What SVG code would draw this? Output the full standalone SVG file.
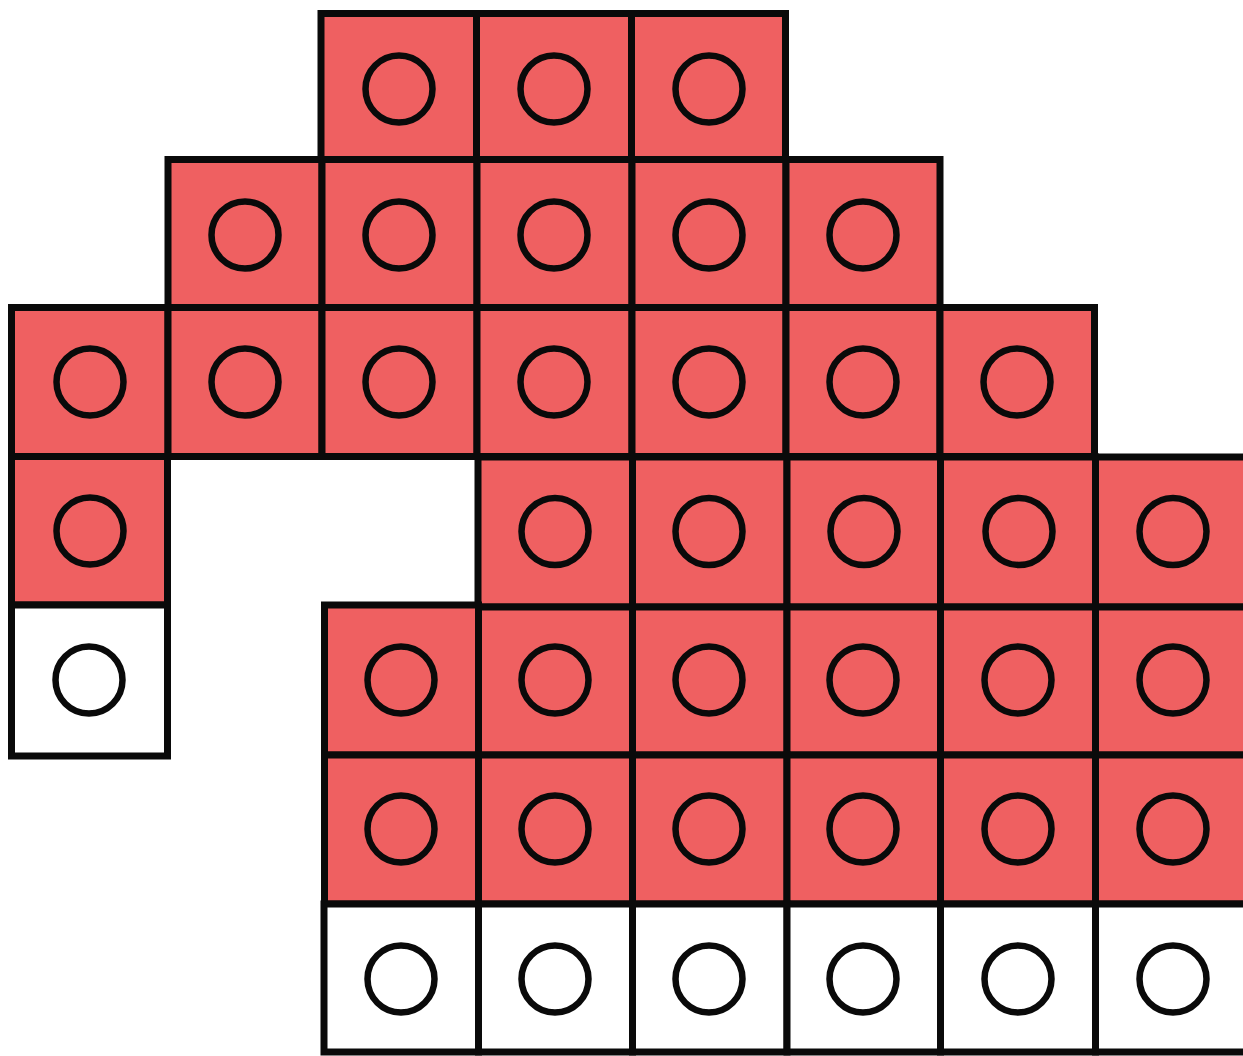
<svg xmlns="http://www.w3.org/2000/svg" width="1243" height="1056" viewBox="0 0 1243 1056">
<style>
.r{fill:#EF6061;stroke:#0a0a0a;stroke-width:7;stroke-linejoin:miter}
.w{fill:#ffffff;stroke:#0a0a0a;stroke-width:7;stroke-linejoin:miter}
.c{fill:none;stroke:#0a0a0a;stroke-width:6.5}
</style>
<rect width="1243" height="1056" fill="#ffffff"/>
<!-- Row 0 -->
<g id="r0c2"><rect class="r" x="321" y="13.5" width="155.5" height="146"/><circle class="c" cx="399" cy="89" r="33.5"/></g>
<g id="r0c3"><rect class="r" x="476.5" y="13.5" width="155" height="146"/><circle class="c" cx="554" cy="89" r="33.5"/></g>
<g id="r0c4"><rect class="r" x="631.5" y="13.5" width="154" height="146"/><circle class="c" cx="709" cy="89" r="33.5"/></g>
<!-- Row 1 -->
<g id="r1c1"><rect class="r" x="168" y="159.5" width="154" height="148"/><circle class="c" cx="245" cy="235" r="33.5"/></g>
<g id="r1c2"><rect class="r" x="322" y="159.5" width="155" height="148"/><circle class="c" cx="399" cy="235" r="33.5"/></g>
<g id="r1c3"><rect class="r" x="477" y="159.5" width="155" height="148"/><circle class="c" cx="554" cy="235" r="33.5"/></g>
<g id="r1c4"><rect class="r" x="632" y="159.5" width="154" height="148"/><circle class="c" cx="709" cy="235" r="33.5"/></g>
<g id="r1c5"><rect class="r" x="786" y="159.5" width="154" height="148"/><circle class="c" cx="863" cy="235" r="33.5"/></g>
<!-- Row 2 -->
<g id="r2c0"><rect class="r" x="11.5" y="307.5" width="156.5" height="149"/><circle class="c" cx="90" cy="382" r="33.5"/></g>
<g id="r2c1"><rect class="r" x="168" y="307.5" width="154" height="149"/><circle class="c" cx="245" cy="382" r="33.5"/></g>
<g id="r2c2"><rect class="r" x="322" y="307.5" width="155" height="149"/><circle class="c" cx="399" cy="382" r="33.5"/></g>
<g id="r2c3"><rect class="r" x="477" y="307.5" width="155" height="149"/><circle class="c" cx="554" cy="382" r="33.5"/></g>
<g id="r2c4"><rect class="r" x="632" y="307.5" width="154" height="149"/><circle class="c" cx="709" cy="382" r="33.5"/></g>
<g id="r2c5"><rect class="r" x="786" y="307.5" width="154" height="149"/><circle class="c" cx="863" cy="382" r="33.5"/></g>
<g id="r2c6"><rect class="r" x="940" y="307.5" width="154.5" height="149"/><circle class="c" cx="1017" cy="382" r="33.5"/></g>
<!-- Row 3 -->
<g id="r3c0"><rect class="r" x="11.5" y="456.5" width="156" height="148.5"/><circle class="c" cx="90" cy="531" r="33.5"/></g>
<g id="r3c3"><rect class="r" x="478" y="457" width="154.5" height="150"/><circle class="c" cx="555" cy="531.5" r="33.5"/></g>
<g id="r3c4"><rect class="r" x="632.5" y="457" width="154.5" height="150"/><circle class="c" cx="709" cy="531.5" r="33.5"/></g>
<g id="r3c5"><rect class="r" x="787" y="457" width="153.5" height="150"/><circle class="c" cx="864" cy="531.5" r="33.5"/></g>
<g id="r3c6"><rect class="r" x="940.5" y="457" width="155" height="150"/><circle class="c" cx="1019" cy="531.5" r="33.5"/></g>
<g id="r3c7"><rect class="r" x="1095.5" y="457" width="160" height="150"/><circle class="c" cx="1173" cy="531.5" r="33.5"/></g>
<!-- Row 4 -->
<g id="r4c0"><rect class="w" x="11.5" y="605" width="156" height="151"/><circle class="c" cx="89" cy="680" r="33.5"/></g>
<g id="r4c2"><rect class="r" x="324.5" y="605" width="154" height="150"/><circle class="c" cx="401" cy="680" r="33.5"/></g>
<g id="r4c3"><rect class="r" x="478.5" y="607" width="154" height="148"/><circle class="c" cx="555" cy="680" r="33.5"/></g>
<g id="r4c4"><rect class="r" x="632.5" y="607" width="154.5" height="148"/><circle class="c" cx="709" cy="680" r="33.5"/></g>
<g id="r4c5"><rect class="r" x="787" y="607" width="153.5" height="148"/><circle class="c" cx="863" cy="680" r="33.5"/></g>
<g id="r4c6"><rect class="r" x="940.5" y="607" width="155" height="148"/><circle class="c" cx="1018" cy="680" r="33.5"/></g>
<g id="r4c7"><rect class="r" x="1095.5" y="607" width="160" height="148"/><circle class="c" cx="1173" cy="680" r="33.5"/></g>
<!-- Row 5 -->
<g id="r5c2"><rect class="r" x="324.5" y="755" width="154" height="149"/><circle class="c" cx="401" cy="829" r="33.5"/></g>
<g id="r5c3"><rect class="r" x="478.5" y="755" width="154" height="149"/><circle class="c" cx="555" cy="829" r="33.5"/></g>
<g id="r5c4"><rect class="r" x="632.5" y="755" width="154.5" height="149"/><circle class="c" cx="709" cy="829" r="33.5"/></g>
<g id="r5c5"><rect class="r" x="787" y="755" width="153.5" height="149"/><circle class="c" cx="863" cy="829" r="33.5"/></g>
<g id="r5c6"><rect class="r" x="940.5" y="755" width="155" height="149"/><circle class="c" cx="1018" cy="829" r="33.5"/></g>
<g id="r5c7"><rect class="r" x="1095.5" y="755" width="160" height="149"/><circle class="c" cx="1173" cy="829" r="33.5"/></g>
<!-- Row 6 -->
<g id="r6c2"><rect class="w" x="324" y="904" width="154.5" height="148"/><circle class="c" cx="401" cy="979" r="33.5"/></g>
<g id="r6c3"><rect class="w" x="478.5" y="904" width="154" height="148"/><circle class="c" cx="555" cy="979" r="33.5"/></g>
<g id="r6c4"><rect class="w" x="632.5" y="904" width="154.5" height="148"/><circle class="c" cx="709" cy="979" r="33.5"/></g>
<g id="r6c5"><rect class="w" x="787" y="904" width="153.5" height="148"/><circle class="c" cx="863" cy="979" r="33.5"/></g>
<g id="r6c6"><rect class="w" x="940.5" y="904" width="155" height="148"/><circle class="c" cx="1018" cy="979" r="33.5"/></g>
<g id="r6c7"><rect class="w" x="1095.5" y="904" width="160" height="148"/><circle class="c" cx="1173" cy="979" r="33.5"/></g>
<g id="connectors"></g>
</svg>
